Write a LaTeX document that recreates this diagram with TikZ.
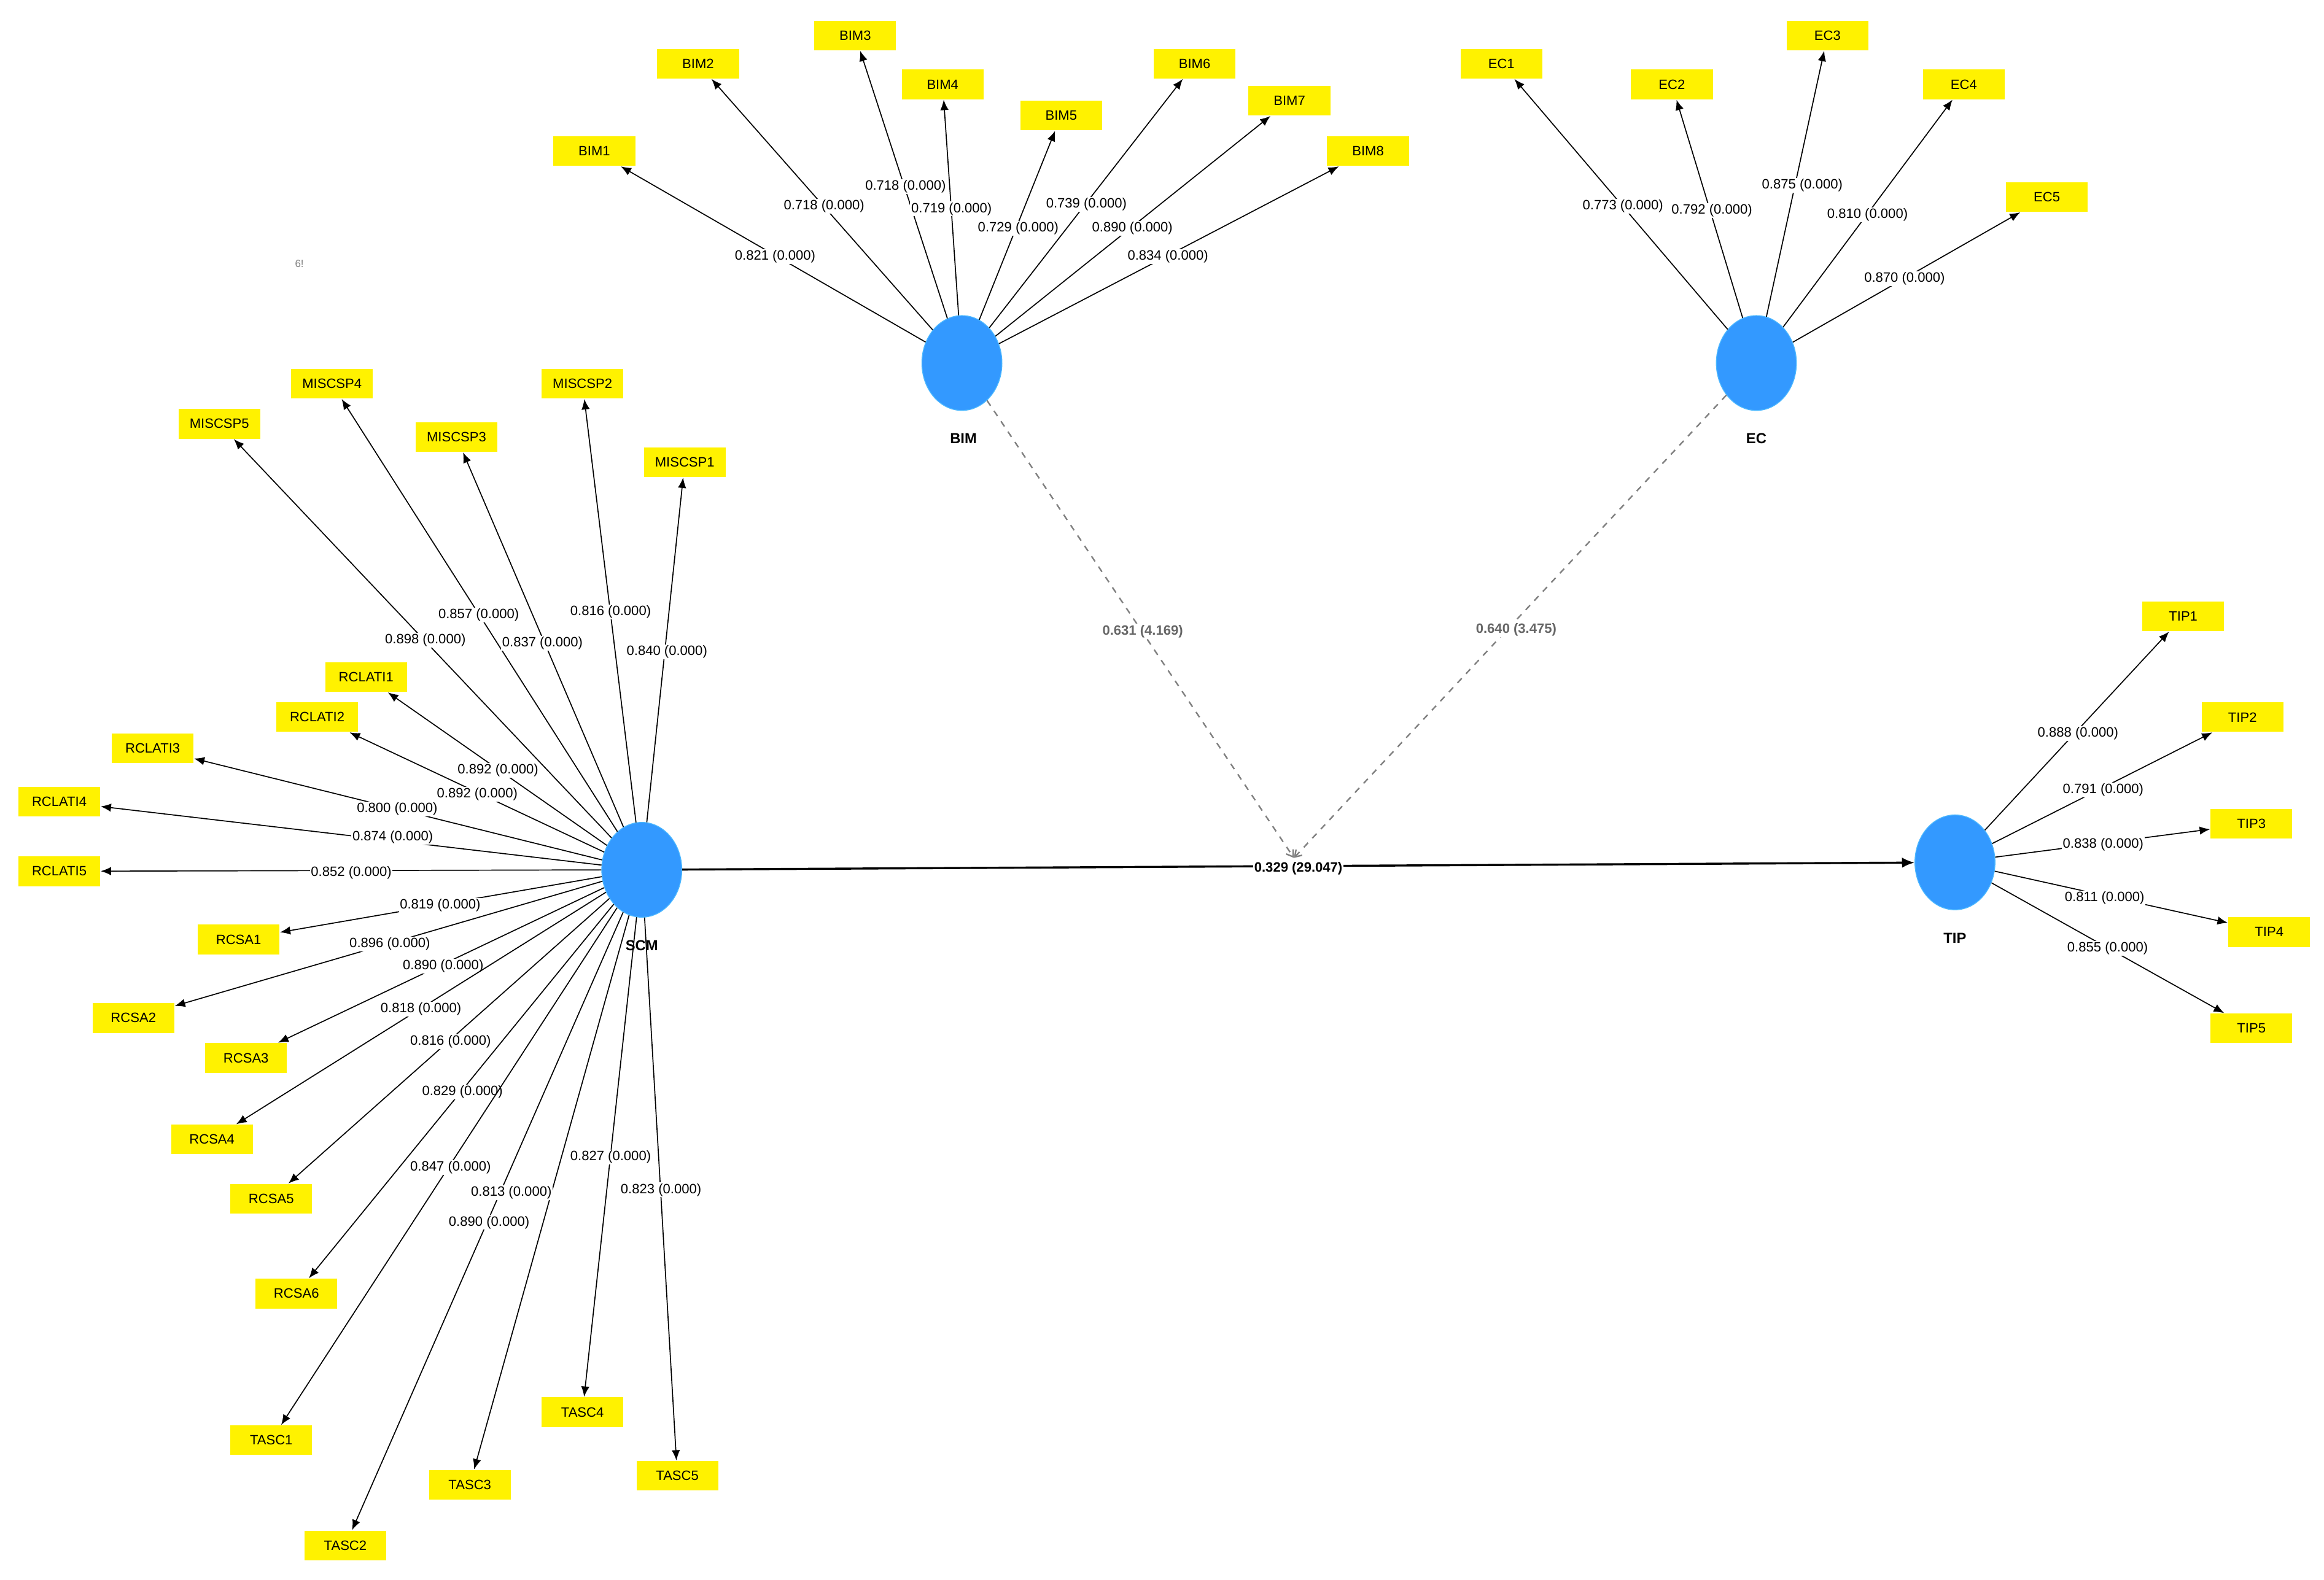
\documentclass[tikz,border=0pt]{standalone}
\usepackage{fontspec}
\setmainfont{Liberation Sans}
\usetikzlibrary{arrows.meta,shapes.geometric}
\begin{document}
\begin{tikzpicture}[x=0.025cm,y=-0.025cm,
 ind/.style={fill=yellow,minimum width=55\pgflinewidth,inner sep=0pt,minimum width=1.38cm,minimum height=0.5cm,font=\fontsize{6.5}{7}\selectfont},
 lat/.style={ellipse,fill=blue!50!cyan!80,draw=blue!40!cyan!70,minimum width=1.35cm,minimum height=1.6cm,inner sep=0pt},
 lbl/.style={fill=white,inner sep=0.5pt,font=\fontsize{6.5}{7}\selectfont},
 ld/.style={-{Latex[length=5pt,width=4pt]},line width=0.5pt},
 nm/.style={font=\bfseries\fontsize{7}{8}\selectfont}]
\useasboundingbox (0,0) rectangle (1568,1066);
\fill[white] (0,0) rectangle (1568,1066);
\node[lat] (BIM) at (649,245) {};
\node[lat] (EC) at (1185,245) {};
\node[lat] (SCM) at (433,587) {};
\node[lat] (TIP) at (1319,582) {};
\node[nm] (nBIM) at (650,296) {BIM};
\node[nm] (nEC) at (1185,296) {EC};
\node[nm] (nSCM) at (433,638) {SCM};
\node[nm] (nTIP) at (1319,633) {TIP};
\node[text=gray,font=\fontsize{5}{6}\selectfont] (stray) at (202,178) {6!};
\foreach \lv/\n/\x/\y/\lx/\ly/\v in {
BIM/BIM1/401/102/523/173/0.821, BIM/BIM2/471/43/556/139/0.718, BIM/BIM3/577/24/611/126/0.718,
BIM/BIM4/636/57/642/141/0.719, BIM/BIM5/716/78/687/154/0.729, BIM/BIM6/806/43/733/138/0.739,
BIM/BIM7/870/68/764/154/0.890, BIM/BIM8/923/102/788/173/0.834,
EC/EC1/1013/43/1095/139/0.773, EC/EC2/1128/57/1155/142/0.792, EC/EC3/1233/24/1216/125/0.875,
EC/EC4/1325/57/1260/145/0.810, EC/EC5/1381/133/1285/188/0.870,
SCM/MISCSP5/148/286/287/432/0.898, SCM/MISCSP4/224/259/323/415/0.857, SCM/MISCSP3/308/295/366/434/0.837,
SCM/MISCSP2/393/259/412/413/0.816, SCM/MISCSP1/462/312/450/440/0.840,
SCM/RCLATI1/247/457/336/520/0.892, SCM/RCLATI2/214/484/322/536/0.892, SCM/RCLATI3/103/505/268/546/0.800,
SCM/RCLATI4/40/541/265/565/0.874, SCM/RCLATI5/40/588/237/589/0.852,
SCM/RCSA1/161/634/297/611/0.819, SCM/RCSA2/90/687/263/637/0.896, SCM/RCSA3/166/714/299/652/0.890,
SCM/RCSA4/143/769/284/681/0.818, SCM/RCSA5/183/809/304/703/0.816, SCM/RCSA6/200/873/312/737/0.829,
SCM/TASC1/183/972/304/788/0.847, SCM/TASC2/233/1043/330/825/0.890, SCM/TASC3/317/1002/345/805/0.813,
SCM/TASC4/393/953/412/781/0.827, SCM/TASC5/457/996/446/803/0.823,
TIP/TIP1/1473/416/1402/495/0.888, TIP/TIP2/1513/484/1419/533/0.791, TIP/TIP3/1519/556/1419/570/0.838,
TIP/TIP4/1531/629/1420/606/0.811, TIP/TIP5/1519/694/1422/640/0.855}{
 \node[ind] (\n) at (\x,\y) {\n};
 \draw[ld] (\lv) -- (\n);
 \node[lbl] (l\n) at (\lx,\ly) {\v\ (0.000)};
}
\coordinate (m) at (873,579);
\draw[-{Latex[length=6pt,width=5pt]},line width=1pt] (SCM) -- (TIP);
\node[lbl,font=\bfseries\fontsize{6.5}{7}\selectfont] (lmain) at (876,586) {0.329 (29.047)};
\draw[gray,dashed,line width=0.7pt,-{Straight Barb[length=3pt,width=4pt]}] (BIM) -- (m);
\draw[gray,dashed,line width=0.7pt,-{Straight Barb[length=3pt,width=4pt]}] (EC) -- (m);
\node[lbl,text=gray!80!black,font=\bfseries\fontsize{6.5}{7}\selectfont] (lb) at (771,426) {0.631 (4.169)};
\node[lbl,text=gray!80!black,font=\bfseries\fontsize{6.5}{7}\selectfont] (le) at (1023,425) {0.640 (3.475)};
\end{tikzpicture}
\end{document}
